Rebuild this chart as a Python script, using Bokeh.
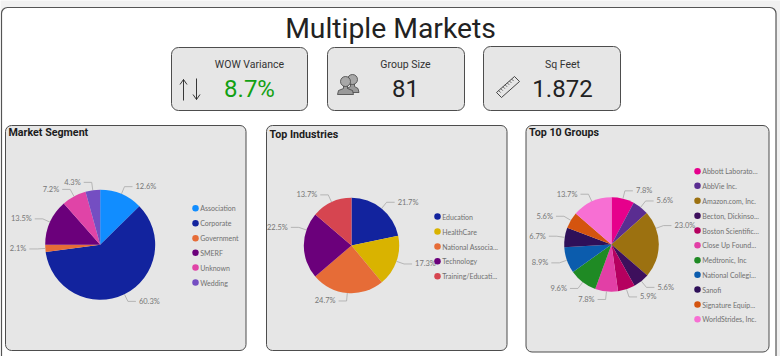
import math
from bokeh.plotting import figure
from bokeh.core.properties import value
from bokeh.embed import file_html
from bokeh.resources import INLINE

title_text = "Multiple Markets"
kpi_names = ["WOW Variance", "Group Size", "Sq Feet"]
kpi_values = ["8.7%", "81", "1.872"]

market_names = ["Association", "Corporate", "Government", "SMERF", "Unknown", "Wedding"]
market_values = [12.6, 60.3, 2.1, 13.5, 7.2, 4.3]
market_colors = ["#118DFF", "#12239E", "#E66C37", "#6B007B", "#E044A7", "#744EC2"]

industry_names = ["Education", "HealthCare", "National Associa...", "Technology", "Training/Educati..."]
industry_values = [21.7, 17.3, 24.7, 22.5, 13.7]
industry_colors = ["#12239E", "#D9B300", "#E66C37", "#6B007B", "#D64550"]

group_names = ["Abbott Laborato...", "AbbVie Inc.", "Amazon.com, Inc.", "Becton, Dickinso...",
               "Boston Scientific...", "Close Up Found...", "Medtronic, Inc", "National Collegi...",
               "Sanofi", "Signature Equip...", "WorldStrides, Inc."]
group_values = [7.8, 5.6, 23.0, 5.6, 5.9, 7.8, 9.6, 8.9, 6.7, 5.6, 13.7]
group_colors = ["#E6008C", "#5A2D91", "#9C7110", "#3D0F5C", "#B5005F", "#E23FA6",
                "#1F8A24", "#0B5CAD", "#2E1059", "#D4540F", "#F76FD3"]

W, H = 780, 356
HEAD = "Roboto"
BODY = "Lato"
p = figure(width=W, height=H, x_range=(0, W), y_range=(0, H), output_backend="svg",
           toolbar_location=None, min_border=0,
           background_fill_color="#f1f1f1", border_fill_color="#f1f1f1")
p.axis.visible = False
p.grid.visible = False
p.outline_line_color = None


def Y(py):
    return H - py


def card(x0, x1, y0, y1, fill, radius, line="#4d4d4d", width=1.0):
    p.quad(left=[x0], right=[x1], top=[Y(y0)], bottom=[Y(y1)], fill_color=fill,
           line_color=line, line_width=width, border_radius=radius)


def label(x, y, s, size, color="#222222", font=HEAD, align="center", style="normal"):
    p.text([x], [Y(y)], text=[s], text_font=value(font), text_font_size=f"{size}px",
           text_color=color, text_align=align, text_baseline="middle", text_font_style=style)


def pie(cx, cy, r, names, vals, colors, legend_x, legend_ys, title, title_x, title_y, overrides=None):
    overrides = overrides or {}
    total = sum(vals)
    cum = 0.0
    starts, ends = [], []
    for v in vals:
        starts.append(math.pi / 2 - 2 * math.pi * cum / total)
        cum += v
        ends.append(math.pi / 2 - 2 * math.pi * cum / total)
    p.wedge(x=[cx] * len(vals), y=[Y(cy)] * len(vals), radius=r, start_angle=starts, end_angle=ends,
            direction="clock", fill_color=colors, line_color=None)
    for i, v in enumerate(vals):
        mid = (starts[i] + ends[i]) / 2
        if i in overrides:
            mid = math.pi / 2 - math.radians(overrides[i])
        dx, dy = math.cos(mid), math.sin(mid)
        ex, ey = cx + r * dx, Y(cy) + r * dy
        bx, by = cx + (r + 8) * dx, Y(cy) + (r + 8) * dy
        side = 1 if dx >= 0 else -1
        tx = bx + side * 8
        p.line([ex, bx, tx], [ey, by, by], line_color="#a8a8a8", line_width=0.8)
        p.text([tx + side * 3], [by], text=[f"{v:.1f}%"], text_font=value(BODY), text_font_size="7.5px",
               text_color="#777777", text_align="left" if side > 0 else "right", text_baseline="middle")
    for name, color, ly in zip(names, colors, legend_ys):
        p.scatter([legend_x], [Y(ly)], size=6.5, marker="circle", fill_color=color, line_color=None)
        label(legend_x + 4.7, ly, name, 7, "#707070", BODY, "left")
    label(title_x, title_y, title, 10.7, "#1c1c1c", HEAD, "left", "bold")


# page frame
card(1, 775.5, 7, 380, "#ffffff", 6, "#555555", 1.2)
label(390, 28, title_text, 28.3)

# KPI cards
for (x0, x1, y0), name, val, col in zip([(171, 307, 47), (327, 464, 47), (483, 620, 46)], kpi_names, kpi_values,
                                        ["#12a012", "#222222", "#222222"]):
    card(x0, x1, y0, 110, "#e6e6e6", 7)
    xc = {171: 249, 327: 405, 483: 562}[x0]
    label(xc, 64, name, 10.5, "#333333")
    label(xc, 88, val, 24, col)

# arrows icon
for ax, a0, a1 in [(183, 100, 79), (196, 78, 99)]:
    sgn = 1 if a1 < a0 else -1
    p.line([ax, ax], [Y(a0), Y(a1)], line_color="#222222", line_width=0.9)
    p.line([ax - 3.5, ax, ax + 3.5], [Y(a1 + 5 * sgn), Y(a1), Y(a1 + 5 * sgn)], line_color="#222222", line_width=0.9)

# people icon
for hx, hy, bw in [(352, 79, 6.5), (345, 81, 8)]:
    p.patch([hx - bw, hx - bw + 1, hx - 2, hx - 2, hx + 2, hx + 2, hx + bw - 1, hx + bw],
            [Y(hy + 13), Y(hy + 9), Y(hy + 7), Y(hy + 4), Y(hy + 4), Y(hy + 7), Y(hy + 9), Y(hy + 13)],
            fill_color="#9a9a9a", line_color="#444444", line_width=0.8)
    p.scatter([hx], [Y(hy)], size=10, marker="circle", fill_color="#a8a8a8", line_color="#444444", line_width=0.8)

# ruler icon
rx = [496, 501, 519, 514]
ry = [92, 97, 81, 76]
p.patch(rx, [Y(v) for v in ry], fill_color="#e6e6e6", line_color="#333333", line_width=0.9)
for t in [0.12, 0.24, 0.36, 0.48, 0.6, 0.72, 0.84]:
    x0 = rx[0] + t * (rx[3] - rx[0])
    y0 = ry[0] + t * (ry[3] - ry[0])
    p.line([x0, x0 + 2], [Y(y0), Y(y0 + 2)], line_color="#333333", line_width=0.7)

# panels
card(5, 245.5, 125, 350, "#e6e6e6", 6)
card(266, 506.5, 125, 350, "#e6e6e6", 6)
card(525.5, 768.5, 125, 351.5, "#e6e6e6", 6)

pie(99.7, 244.3, 55, market_names, market_values, market_colors, 195,
    [207.7, 222.7, 237.7, 252.3, 267, 282], "Market Segment", 8, 132)
pie(351, 245, 47.7, industry_names, industry_values, industry_colors, 437,
    [216, 231, 246, 260.7, 275.7], "Top Industries", 269, 134, overrides={3: 289})
pie(611, 244, 47.3, group_names, group_values, group_colors, 697,
    [170.7, 185.3, 200.3, 215.3, 230, 244.7, 259.7, 274.3, 289, 304, 318.7],
    "Top 10 Groups", 528.5, 132, overrides={2: 70})

open("out.html", "w").write(file_html(p, INLINE))
